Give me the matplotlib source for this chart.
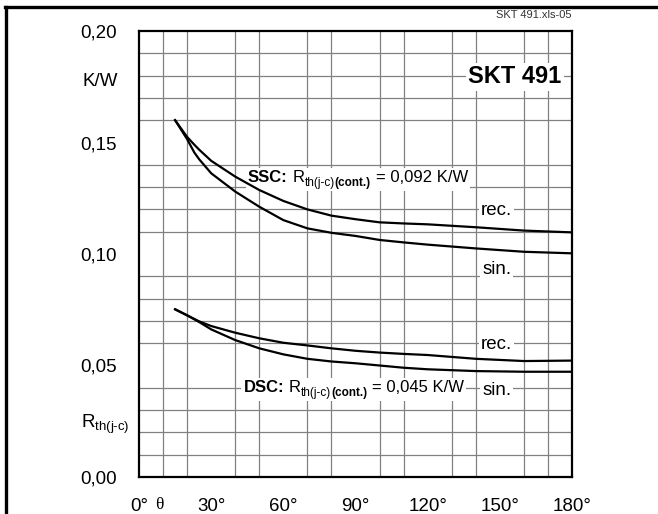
import numpy as np
import matplotlib
matplotlib.use("Agg")
import matplotlib.pyplot as plt
from matplotlib.lines import Line2D
from matplotlib.patches import Rectangle
from matplotlib.transforms import offset_copy, Bbox

plt.rcParams['font.family'] = ['Liberation Sans', 'DejaVu Sans']
plt.rcParams['mathtext.fontset'] = 'custom'
plt.rcParams['mathtext.rm'] = 'Liberation Sans'
plt.rcParams['mathtext.it'] = 'Liberation Sans:italic'
plt.rcParams['mathtext.bf'] = 'Liberation Sans:bold'

# SSC curves (single side cooling)
ssc_angle = [15, 20, 23, 25, 30, 40, 50, 60, 70, 80, 90, 100, 110, 120, 140, 160, 180]
ssc_rec = [0.160, 0.1525, 0.1490, 0.1468, 0.1418, 0.1347, 0.1287, 0.1238, 0.1200,
           0.1172, 0.1156, 0.1142, 0.1137, 0.1133, 0.1120, 0.1105, 0.1097]
ssc_sin = [0.160, 0.1515, 0.1455, 0.1425, 0.1362, 0.1280, 0.1212, 0.1152, 0.1115,
           0.1095, 0.1081, 0.1063, 0.1052, 0.1042, 0.1025, 0.1010, 0.1003]

# DSC curves (double side cooling)
dsc_angle = [15, 20, 25, 30, 40, 50, 60, 70, 80, 90, 100, 110, 120, 140, 160, 170, 180]
dsc_rec = [0.0752, 0.0725, 0.0698, 0.0677, 0.0647, 0.0622, 0.0602, 0.0590, 0.0577,
           0.0566, 0.0558, 0.0552, 0.0547, 0.0530, 0.0520, 0.0521, 0.0522]
dsc_sin = [0.0752, 0.0725, 0.0695, 0.0662, 0.0614, 0.0577, 0.0550, 0.0530, 0.0518,
           0.0510, 0.0500, 0.0490, 0.0483, 0.0475, 0.0472, 0.0472, 0.0472]

x_ticks = [0, 30, 60, 90, 120, 150, 180]
x_labels = ['0°', '30°', '60°', '90°', '120°', '150°', '180°']
y_ticks = [0.00, 0.05, 0.10, 0.15, 0.20]
y_labels = ['0,00', '0,05', '0,10', '0,15', '0,20']

fig = plt.figure(figsize=(6.58, 5.14), dpi=100)
ax = fig.add_axes([139/658, 1 - 477/514, 433/658, 446/514])
renderer = fig.canvas.get_renderer()

for vals in (ssc_rec, ssc_sin):
    ax.plot(ssc_angle, vals, color='black', lw=1.6, zorder=4)
for vals in (dsc_rec, dsc_sin):
    ax.plot(dsc_angle, vals, color='black', lw=1.6, zorder=4)

ax.set_xlim(0, 180)
ax.set_ylim(0, 0.20)
ax.set_xticks(x_ticks)
ax.set_xticklabels(x_labels, fontsize=13.5)
ax.set_yticks(y_ticks)
ax.set_yticklabels(y_labels, fontsize=13.5)
ax.set_xticks(np.arange(0, 181, 10), minor=True)
ax.set_yticks(np.arange(0, 0.201, 0.01), minor=True)
ax.tick_params(which='both', length=0)
ax.tick_params(axis='x', pad=15)
ax.tick_params(axis='y', pad=16)
ax.grid(which='minor', color='#808080', lw=0.9)
ax.set_axisbelow(True)
for s in ax.spines.values():
    s.set_linewidth(1.6)

box = dict(facecolor='white', edgecolor='none', pad=1.5)


def rich_text(x, y, pieces, pad=2):
    # pieces: (text, size, weight, x gap before in pt, y shift in pt)
    dx = 0
    texts = []
    for s, size, weight, gap, dy in pieces:
        dx += gap
        tr = offset_copy(ax.transData, fig=fig, x=dx, y=dy, units='points')
        t = ax.text(x, y, s, fontsize=size, fontweight=weight, ha='left',
                    va='baseline', transform=tr, zorder=3)
        w = t.get_window_extent(renderer).width
        dx += w * 72 / fig.dpi
        texts.append(t)
    bb = Bbox.union([t.get_window_extent(renderer) for t in texts])
    (x0, y0), (x1, y1) = ax.transAxes.inverted().transform(
        [[bb.x0 - pad, bb.y0 - pad], [bb.x1 + pad, bb.y1 + pad]])
    ax.add_patch(Rectangle((x0, y0), x1 - x0, y1 - y0, transform=ax.transAxes,
                           facecolor='white', edgecolor='none', zorder=2.5))


def rth_label(x, y, name, value):
    rich_text(x, y, [(name + ':', 12, 'bold', 0, 0),
                     ('R', 12, 'normal', 3.4, 0),
                     ('th(j-c)', 8.5, 'normal', 0, -3),
                     ('(cont.)', 8.5, 'bold', 0, -3),
                     ('= ' + value + ' K/W', 12, 'normal', 3.4, 0)])


ax.text(175.6, 0.1765, 'SKT 491', fontsize=17, fontweight='bold', ha='right',
        va='baseline', bbox=box, zorder=3)
rth_label(45.3, 0.1324, 'SSC', '0,092')
rth_label(43.4, 0.0380, 'DSC', '0,045')

for y, s in [(0.1175, 'rec.'), (0.0910, 'sin.'), (0.0573, 'rec.'), (0.0368, 'sin.')]:
    ax.text(148.7, y, s, fontsize=13.5, ha='center', va='baseline', bbox=box, zorder=3)

ax.text(-16, 0.1755, 'K/W', fontsize=13.5, ha='center', va='baseline', clip_on=False)
ax.text(-14, 0.0218, r'$\mathrm{R}_{\text{th(j-c)}}$', fontsize=13.5, ha='center',
        va='baseline', clip_on=False)
ax.text(8.5, -0.0145, 'θ', fontsize=12.5, family='Liberation Serif', ha='center',
        va='baseline', clip_on=False)

fig.text(572/658, 1 - 15/514, 'SKT 491.xls-05', fontsize=8, color='#333333',
         ha='right', va='center')

# outer frame (top and left edges visible)
fig.add_artist(Line2D([5/658, 1], [1 - 6.5/514, 1 - 6.5/514], color='black', lw=2.4,
                      transform=fig.transFigure))
fig.add_artist(Line2D([5.5/658, 5.5/658], [0, 1 - 6.5/514], color='black', lw=2.4,
                      transform=fig.transFigure))

fig.savefig('out.png', dpi=100)
